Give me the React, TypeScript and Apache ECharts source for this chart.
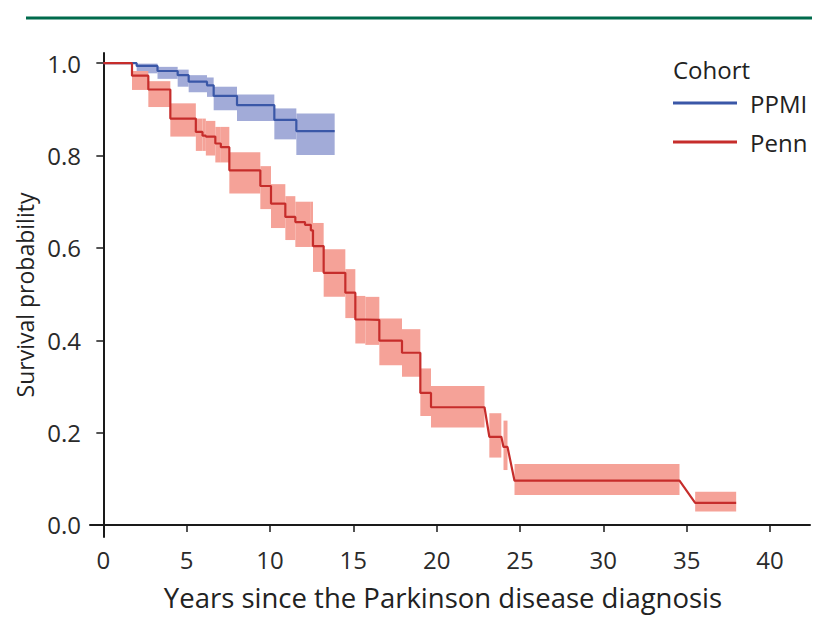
import React, { useEffect, useRef } from "react";
import * as echarts from "echarts";

const xTicks = [0, 5, 10, 15, 20, 25, 30, 35, 40];
const yTicks = [0, 0.2, 0.4, 0.6, 0.8, 1.0];

// PPMI cohort: step start times, survival, CI lower/upper, step (band) end times
const ppmiTimes = [0, 2.0, 3.25, 4.46, 5.12, 6.22, 6.62, 8.02, 10.26, 11.58];
const ppmiSurv = [1.0, 0.994, 0.983, 0.974, 0.96, 0.952, 0.929, 0.909, 0.877, 0.853];
const ppmiLower = [1.0, 0.978, 0.966, 0.949, 0.937, 0.927, 0.898, 0.875, 0.835, 0.801];
const ppmiUpper = [1.0, 0.999, 0.992, 0.986, 0.974, 0.969, 0.949, 0.932, 0.902, 0.891];
const ppmiEnd = [2.0, 3.25, 4.46, 5.12, 6.22, 6.62, 8.02, 10.26, 11.58, 13.88];

// Penn cohort
const pennTimes = [0, 1.72, 2.7, 4.02, 5.55, 5.95, 6.15, 6.72, 7.05, 7.56, 9.42, 10.06, 10.92, 11.52, 12.1, 12.45, 12.58, 13.22, 14.52, 15.12, 15.72, 16.56, 17.92, 19.02, 19.66, 23.16, 24.01, 24.67, 35.51];
const pennSurv = [1.0, 0.973, 0.943, 0.88, 0.851, 0.843, 0.841, 0.826, 0.818, 0.768, 0.734, 0.696, 0.667, 0.656, 0.65, 0.638, 0.604, 0.546, 0.503, 0.445, 0.444, 0.399, 0.373, 0.286, 0.255, 0.191, 0.169, 0.096, 0.048];
const pennLower = [1.0, 0.942, 0.905, 0.841, 0.81, 0.81, 0.8, 0.785, 0.785, 0.718, 0.684, 0.643, 0.617, 0.602, 0.602, 0.602, 0.548, 0.494, 0.448, 0.393, 0.39, 0.346, 0.321, 0.236, 0.211, 0.146, 0.119, 0.065, 0.029];
const pennUpper = [1.0, 0.983, 0.961, 0.913, 0.88, 0.88, 0.875, 0.862, 0.862, 0.807, 0.777, 0.738, 0.712, 0.7, 0.7, 0.7, 0.654, 0.597, 0.554, 0.496, 0.494, 0.447, 0.424, 0.339, 0.301, 0.242, 0.226, 0.132, 0.072];
const pennEnd = [1.72, 2.7, 4.02, 5.55, 5.95, 6.15, 6.72, 7.05, 7.56, 9.42, 10.06, 10.92, 11.52, 12.1, 12.45, 12.58, 13.22, 14.52, 15.12, 15.72, 16.56, 17.92, 19.02, 19.66, 22.87, 23.88, 24.25, 34.57, 37.97];

const FONT = "'Open Sans', 'Noto Sans', sans-serif";

function stepLine(times: number[], surv: number[], ends: number[]) {
  const pts: number[][] = [];
  for (let i = 0; i < times.length; i++) {
    pts.push([times[i], surv[i]]);
    pts.push([ends[i], surv[i]]);
  }
  return pts;
}

function bands(times: number[], lower: number[], upper: number[], ends: number[]) {
  const out: number[][] = [];
  for (let i = 0; i < times.length; i++) {
    if (upper[i] > lower[i]) out.push([times[i], ends[i], lower[i], upper[i]]);
  }
  return out;
}

function bandSeries(name: string, data: number[][], color: string) {
  return {
    type: "custom",
    name: name + "-ci",
    data,
    encode: { x: [0, 1], y: [2, 3] },
    silent: true,
    z: 1,
    renderItem: (params: any, api: any) => {
      const p0 = api.coord([api.value(0), api.value(3)]);
      const p1 = api.coord([api.value(1), api.value(2)]);
      return {
        type: "rect",
        shape: { x: p0[0], y: p0[1], width: p1[0] - p0[0], height: p1[1] - p0[1] },
        style: { fill: color },
      };
    },
  };
}

export default function App() {
  const ref = useRef<HTMLDivElement>(null);
  useEffect(() => {
    if (!ref.current) return;
    const chart = echarts.init(ref.current, null, { renderer: "svg" });
    const blue = "#3a57a7";
    const red = "#c62d2b";
    chart.setOption({
      animation: false,
      backgroundColor: "#ffffff",
      textStyle: { fontFamily: FONT },
      grid: { left: 90, right: 19, top: 53, bottom: 82, containLabel: false },
      xAxis: {
        type: "value",
        min: -0.8,
        max: 42.4,
        splitLine: { show: false },
        axisLine: { show: true, lineStyle: { color: "#1a1a1a", width: 2 } },
        axisTick: { show: true, length: 7, lineStyle: { color: "#1a1a1a", width: 1.5 }, customValues: xTicks },
        axisLabel: { fontSize: 24, color: "#2a2a2a", fontFamily: FONT, margin: 10, customValues: xTicks, formatter: (v: number) => String(v) },
        name: "Years since the Parkinson disease diagnosis",
        nameLocation: "middle",
        nameGap: 46,
        nameTextStyle: { fontSize: 27.5, color: "#222", fontFamily: FONT, padding: [0, 14, 0, 0] },
      },
      yAxis: {
        type: "value",
        min: -0.026,
        max: 1.022,
        splitLine: { show: false },
        axisLine: { show: true, lineStyle: { color: "#1a1a1a", width: 2 } },
        axisTick: { show: true, length: 7, lineStyle: { color: "#1a1a1a", width: 1.5 }, customValues: yTicks },
        axisLabel: { fontSize: 24, color: "#2a2a2a", fontFamily: FONT, margin: 9, customValues: yTicks, formatter: (v: number) => v.toFixed(1) },
        name: "Survival probability",
        nameLocation: "middle",
        nameRotate: 90,
        nameGap: 52,
        nameTextStyle: { fontSize: 23, color: "#222", fontFamily: FONT },
      },
      legend: {
        orient: "vertical",
        left: 673,
        top: 89,
        padding: 0,
        itemGap: 11,
        itemWidth: 64,
        itemHeight: 3,
        icon: "rect",
        data: ["PPMI", "Penn"],
        textStyle: { fontSize: 24, color: "#222", fontFamily: FONT, lineHeight: 28, padding: [0, 0, 0, 8] },
      },
      graphic: [
        { type: "line", shape: { x1: 26, y1: 18, x2: 812, y2: 18 }, style: { stroke: "#006b4c", lineWidth: 3 } },
        { type: "text", left: 673, top: 57, style: { text: "Cohort", fontSize: 24, fill: "#222", fontFamily: FONT } },
      ],
      series: [
        bandSeries("PPMI", bands(ppmiTimes, ppmiLower, ppmiUpper, ppmiEnd), "#a2abd8"),
        bandSeries("Penn", bands(pennTimes, pennLower, pennUpper, pennEnd), "#f5a298"),
        {
          type: "line",
          name: "PPMI",
          data: stepLine(ppmiTimes, ppmiSurv, ppmiEnd),
          showSymbol: false,
          symbol: "none",
          color: blue,
          lineStyle: { width: 2.2, color: blue },
          z: 3,
        },
        {
          type: "line",
          name: "Penn",
          data: stepLine(pennTimes, pennSurv, pennEnd),
          showSymbol: false,
          symbol: "none",
          color: red,
          lineStyle: { width: 2.2, color: red },
          z: 3,
        },
      ],
    });
    return () => chart.dispose();
  }, []);
  return (
    <div style={{ position: "fixed", left: 0, top: 0, width: 829, height: 619, background: "#fff" }}>
      <div ref={ref} style={{ width: 829, height: 619 }} />
    </div>
  );
}
